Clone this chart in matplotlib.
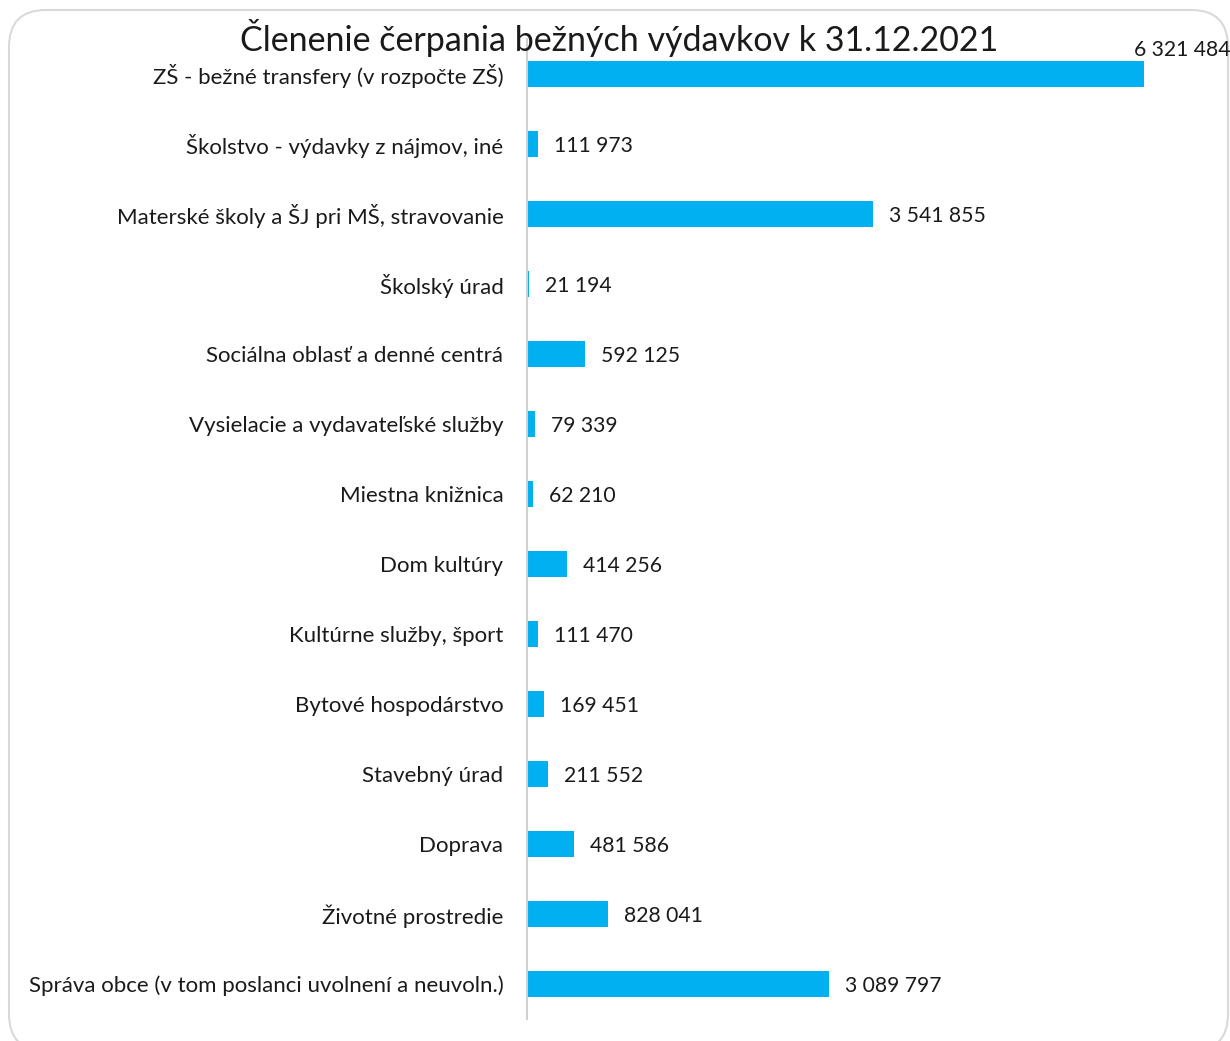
import numpy as np
import matplotlib.pyplot as plt
from matplotlib.patches import FancyBboxPatch

# data
categories = [
    "ZŠ - bežné transfery (v rozpočte ZŠ)",
    "Školstvo - výdavky z nájmov, iné",
    "Materské školy a ŠJ pri MŠ, stravovanie",
    "Školský úrad",
    "Sociálna oblasť a denné centrá",
    "Vysielacie a vydavateľské služby",
    "Miestna knižnica",
    "Dom kultúry",
    "Kultúrne služby, šport",
    "Bytové hospodárstvo",
    "Stavebný úrad",
    "Doprava",
    "Životné prostredie",
    "Správa obce (v tom poslanci uvolnení a neuvoln.)",
]
values = np.array([6321484, 111973, 3541855, 21194, 592125, 79339, 62210,
                   414256, 111470, 169451, 211552, 481586, 828041, 3089797])

title = "Členenie čerpania bežných výdavkov k 31.12.2021"
bar_color = "#00B0F0"

plt.rcParams['font.family'] = ['Lato', 'DejaVu Sans']

W, H = 1230, 1041
fig = plt.figure(figsize=(W / 100, H / 100), dpi=100)

# rounded chart border (runs off the bottom of the image)
border = FancyBboxPatch((9 / W, -10 / H), 1219 / W, 1041 / H,
                        boxstyle="round,pad=0,rounding_size=0.03",
                        transform=fig.transFigure, facecolor="white",
                        edgecolor="#D9D9D9", linewidth=1.5,
                        mutation_aspect=W / H, zorder=-5)
fig.patches.append(border)

ax = fig.add_axes([527 / W, 22 / H, 703 / W, 980 / H])
ax.patch.set_alpha(0)

y = np.arange(len(categories))
ax.barh(y, values, height=0.36, color=bar_color)
ax.set_xlim(0, 7202000)
ax.set_ylim(len(categories) - 0.5, -0.5)

ax.set_yticks(y)
ax.set_yticklabels(categories, fontsize=16, color="#1a1a1a")
ax.tick_params(axis='y', length=0, pad=17)
ax.set_xticks([])
for s in ['top', 'right', 'bottom']:
    ax.spines[s].set_visible(False)
ax.spines['left'].set_color("#D0D0D0")
ax.spines['left'].set_linewidth(1.5)


def fmt(v):
    return f"{v:,}".replace(",", " ")


for i, v in enumerate(values):
    if i == 0:
        # no room beside the longest bar, label sits above at the right edge
        ax.text(7202000, i - 0.26, fmt(v), ha='right', va='baseline',
                fontsize=15.2, color="#1a1a1a", clip_on=False)
    else:
        ax.annotate(fmt(v), xy=(v, i), xytext=(16, -2), textcoords='offset pixels',
                    ha='left', va='center', fontsize=15.2, color="#1a1a1a")

fig.text(619 / W, 1 - 38 / H, title, ha='center', va='center', fontsize=24.5,
         color="#1a1a1a")

fig.savefig("out.png", dpi=100)
